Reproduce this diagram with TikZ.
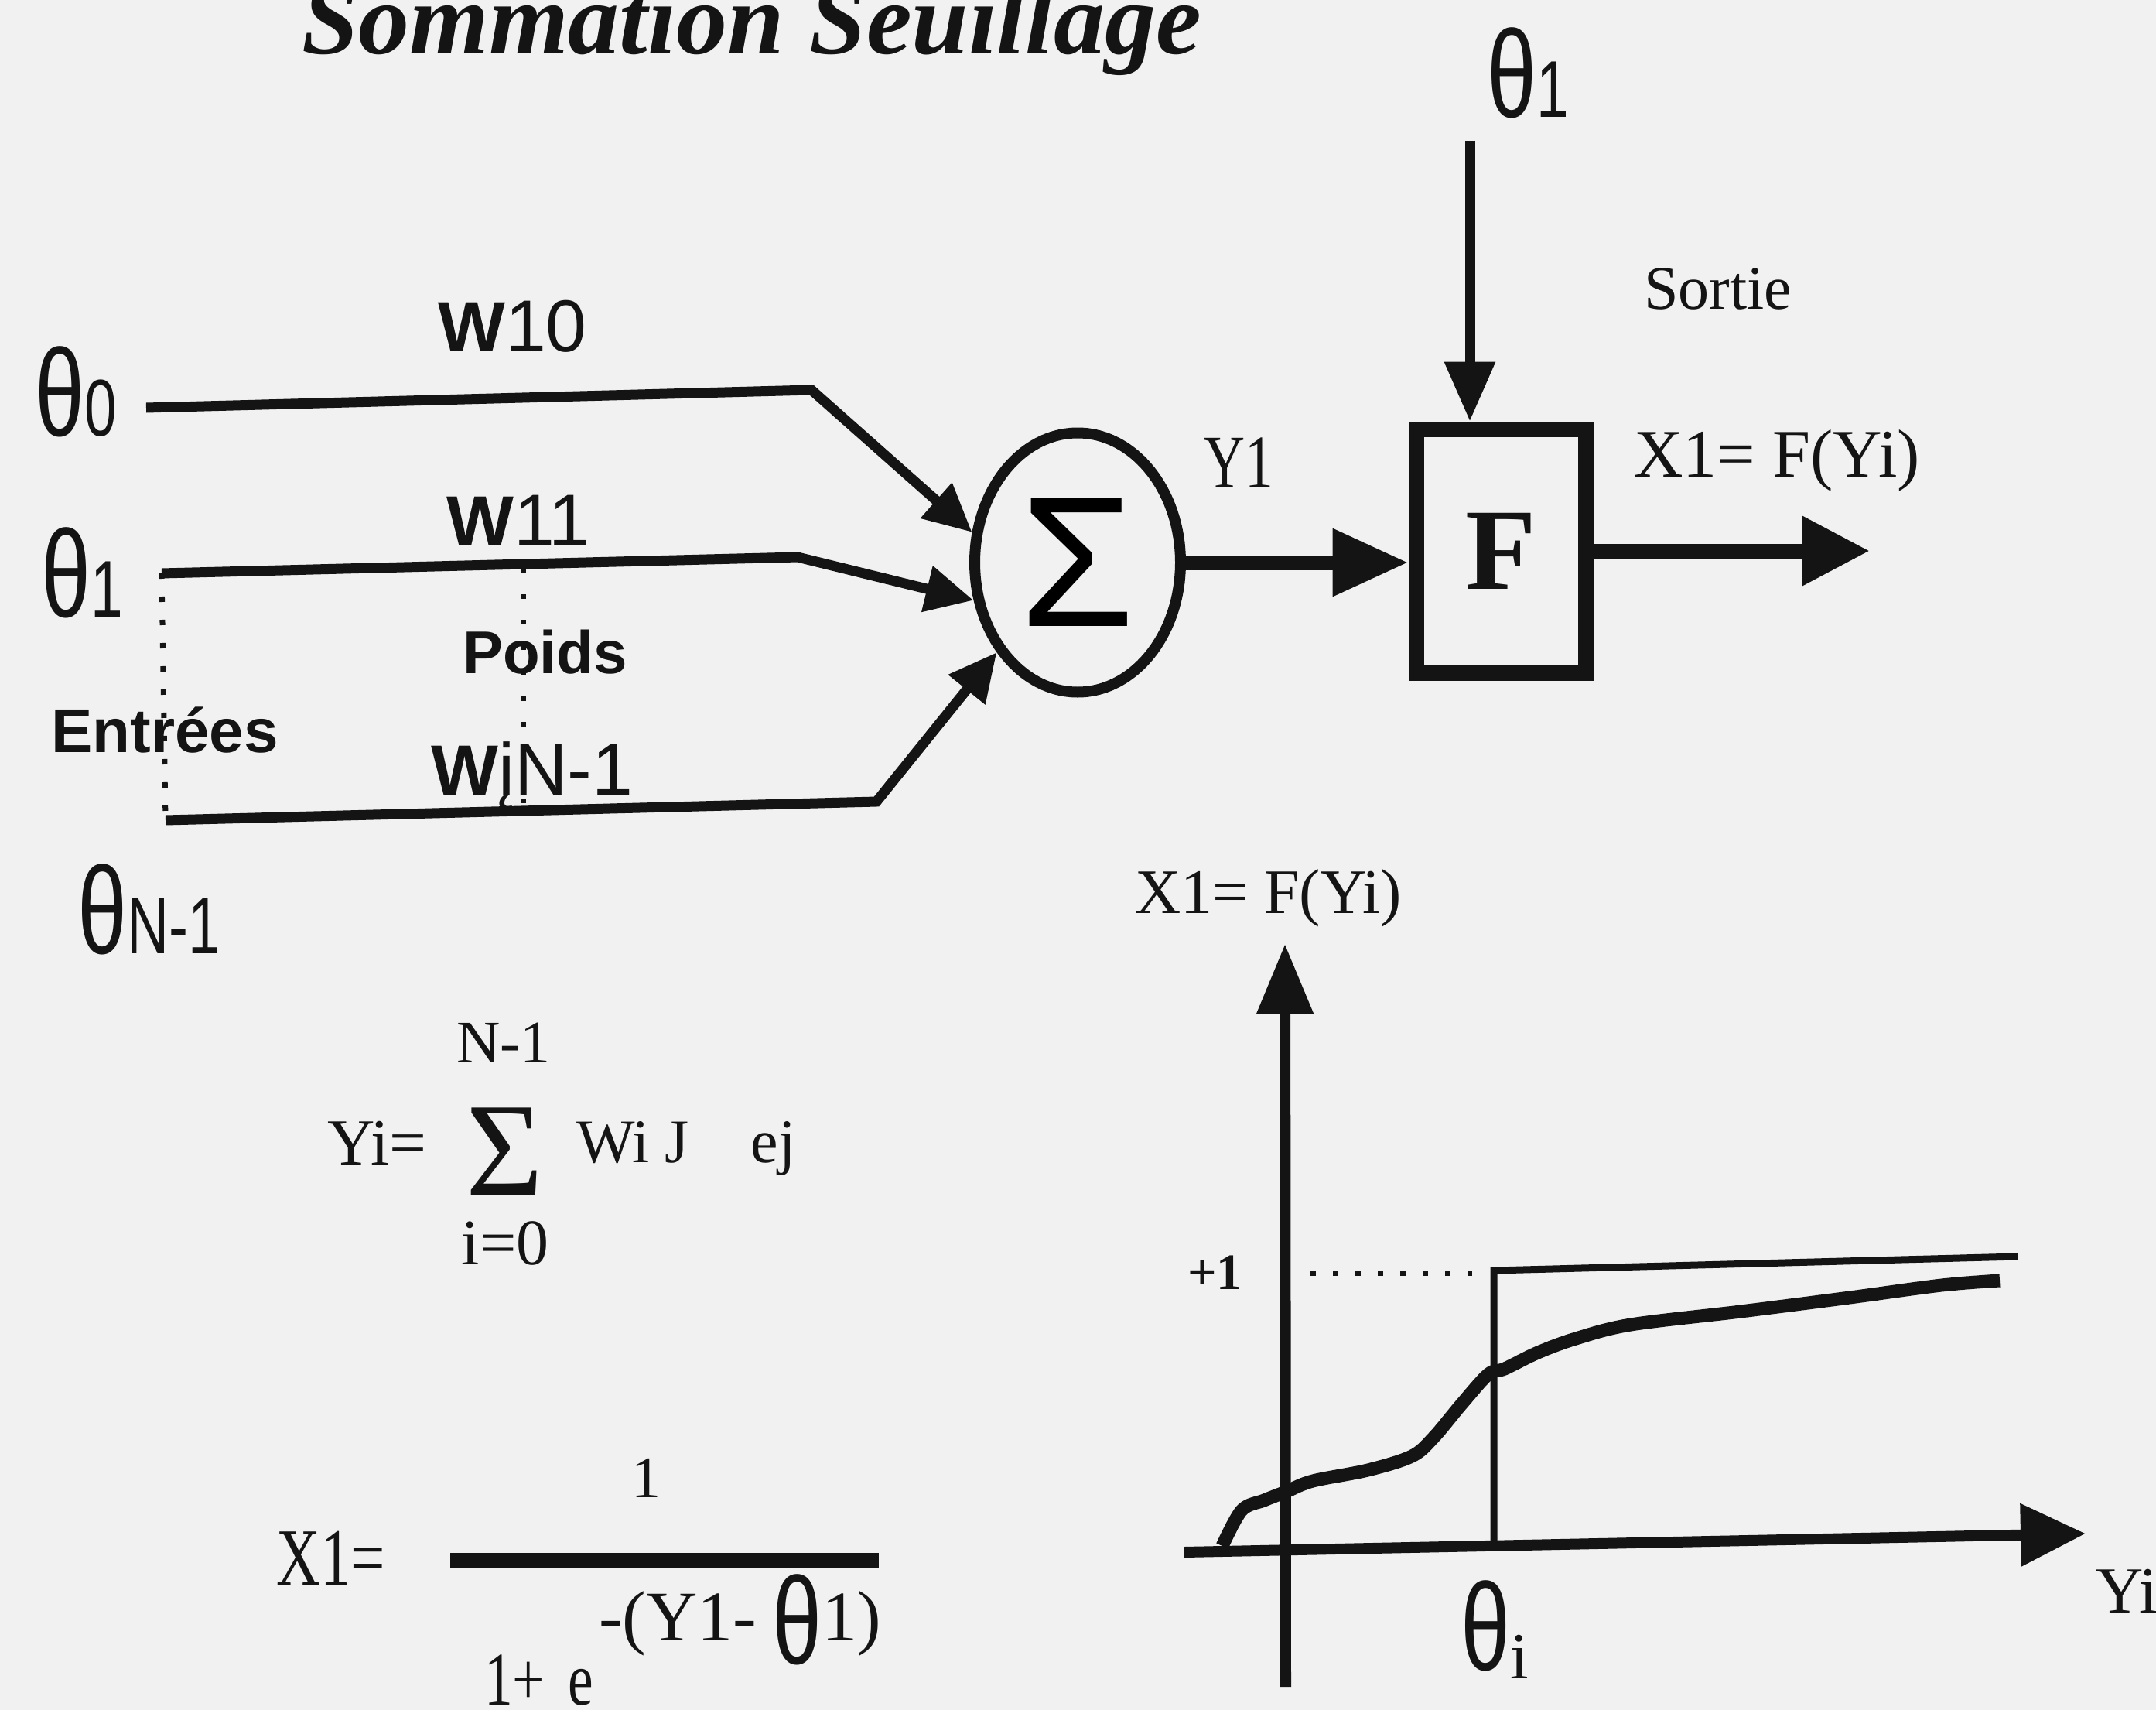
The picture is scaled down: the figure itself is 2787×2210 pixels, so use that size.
\documentclass[tikz,border=0pt]{standalone}
\usepackage{fontspec}
\setmainfont{Liberation Serif}
\setsansfont{Liberation Sans}
\newfontfamily\pixfont[FakeStretch=0.72]{Liberation Sans}
\newfontfamily\narrowfont[FakeStretch=0.75]{Liberation Serif}
\usetikzlibrary{arrows.meta,calc,positioning,shapes.geometric}
\definecolor{SeuilInk}{HTML}{141414}
\definecolor{SeuilPaper}{HTML}{F1F1F1}
\newcommand\thsub[1]{{\fontsize{104}{104}\selectfont#1}}
\newcommand\wsub[1]{{\mdseries\fontsize{95}{95}\selectfont#1}}
\tikzset{
  seuil text/.style={inner sep=0pt,text=SeuilInk,anchor=base west},
  theta lab/.style={seuil text,font=\pixfont\fontsize{160}{160}\selectfont},
  w lab/.style={seuil text,font=\sffamily\bfseries\fontsize{92}{92}\selectfont},
  seuil wire/.style={draw=SeuilInk,line width=13pt},
  seuil tip/.style={-{Triangle[length=62pt,width=58pt]}},
  seuil dots/.style={draw=SeuilInk,line width=7pt,dash pattern=on 7pt off 23pt}
}

\begin{document}
\begin{tikzpicture}[x=1pt,y=-1pt]

    \fill[SeuilPaper] (0,0) rectangle (2787,2210);
    \useasboundingbox (0,0) rectangle (2787,2210);

    \node[
      seuil text,
      font=\bfseries\itshape\fontsize{132}{132}\selectfont
    ]
      (title) at (390,70)
      {Sommation Seuillage};

    \node[theta lab] (th0) at (45,563) {θ\thsub{0}};
    \node[theta lab] (th1) at (53,797) {θ\thsub{1}};
    \node[theta lab] (thN) at (100,1232) {θ\thsub{N-1}};

    \node[w lab] (w10) at (566,454) {W\wsub{10}};
    \node[w lab] (w11) at (577,705) {W\wsub{11}};
    \node[w lab] (wN) at (557,1027) {W\wsub{įN-1}};

    \node[
      seuil text,
      font=\sffamily\bfseries\fontsize{78}{78}\selectfont
    ]
      (poids) at (598,870)
      {Poids};

    \node[
      seuil text,
      font=\sffamily\bfseries\fontsize{80}{80}\selectfont
    ]
      (entrees) at (66,972)
      {Entrées};

    \node[
      ellipse,
      draw=SeuilInk,
      line width=14pt,
      minimum width=266pt,
      minimum height=335pt,
      inner sep=0pt,
      font=\sffamily\fontsize{240}{240}\selectfont
    ]
      (sum) at (1393,727)
      {Σ};

    \coordinate (in0) at (189,527);
    \coordinate (bend0) at (1049,504);
    \coordinate (in1) at (209,741);
    \coordinate (bend1) at (1031,720);
    \coordinate (inN) at (214,1060);
    \coordinate (bendN) at (1133,1036);

    \foreach \k/\ang in {0/164,1/200,N/228.6}{
      \draw[seuil wire,seuil tip]
        (in\k) -- (bend\k) -- (sum.\ang);
    }

    \draw[seuil dots] (in1) -- (inN);
    \coordinate (pdtop) at (677,735);
    \coordinate (pdbot) at (677,1046);
    \draw[seuil dots,line width=6pt,dash pattern=on 6pt off 27pt] (pdtop) -- (pdbot);

    \node[
      draw=SeuilInk,
      line width=20pt,
      minimum width=219pt,
      minimum height=315pt,
      text=SeuilInk,
      font=\bfseries\fontsize{150}{150}\selectfont
    ]
      (fbox) at (1940,712)
      {F};

    \node[
      seuil text,
      font=\narrowfont\fontsize{98}{98}\selectfont
    ]
      (y1) at (1556,630)
      {Y1};

    \draw[seuil wire,line width=19pt,-{Triangle[length=98pt,width=83pt]}]
      (sum.east) -- (sum.east -| fbox.west);

    \node[theta lab] (thtop) at (1922,152) {θ\thsub{1}};
    \coordinate (topstart) at (1900,182);
    \draw[seuil wire,-{Triangle[length=77pt,width=63pt]}]
      (topstart) -- (topstart |- fbox.north);

    \node[
      seuil text,
      font=\fontsize{80}{80}\selectfont
    ]
      (sortie) at (2125,399)
      {Sortie};

    \node[
      seuil text,
      font=\fontsize{88}{88}\selectfont
    ]
      (xout) at (2112,616)
      {X1= F(Yi)};

    \coordinate (outtip) at (2417,712);
    \draw[seuil wire,line width=19pt,-{Triangle[length=88pt,width=86pt]}]
      (fbox.east) -- (outtip);

    \node[
      seuil text,
      anchor=base,
      font=\fontsize{78}{78}\selectfont
    ]
      (sumtop) at (651,1373)
      {N-1};

    \node[
      seuil text,
      anchor=base,
      font=\fontsize{172}{172}\selectfont
    ]
      (bigsum) at (653,1544)
      {Σ};

    \node[
      seuil text,
      anchor=base,
      font=\fontsize{84}{84}\selectfont
    ]
      (sumbot) at (653,1634)
      {i=0};

    \node[
      seuil text,
      font=\fontsize{85}{85}\selectfont
    ]
      (yieq) at (423,1505)
      {Yi=};

    \node[
      seuil text,
      font=\fontsize{80}{80}\selectfont
    ]
      (wiej) at (745,1502)
      {Wi J\quad ej};

    \node[
      seuil text,
      font=\narrowfont\fontsize{105}{105}\selectfont
    ]
      (x1eq) at (357,2048)
      {X1=};

    \coordinate (barl) at (582,2017);
    \coordinate (barr) at (1136,2017);
    \draw[draw=SeuilInk,line width=20pt] (barl) -- (barr);

    \node[
      seuil text,
      anchor=base,
      font=\fontsize{76}{76}\selectfont
    ]
      (num) at (835,1935)
      {1};

    \node[
      seuil text,
      font=\narrowfont\fontsize{98}{98}\selectfont
    ]
      (den) at (626,2203)
      {1+\hspace{30pt}e};

    \node[
      seuil text,
      font=\fontsize{92}{92}\selectfont
    ]
      (expo) at (774,2120)
      {-(Y1-\hspace{20pt}\raisebox{-30pt}{\pixfont\fontsize{160}{160}\selectfont θ}1)};

    \coordinate (xaxl) at (1531,2006);
    \coordinate (xaxr) at (2696,1982);
    \coordinate (yaxb) at (1662,2180);
    \coordinate (yaxt) at (1661,1220);

    \draw[seuil wire,line width=14pt,-{Triangle[length=84pt,width=78pt]}]
      (xaxl) -- (xaxr);
    \draw[seuil wire,line width=14pt,-{Triangle[length=90pt,width=70pt]}]
      (yaxb) -- (yaxt);

    \draw[seuil wire,line width=9pt]
      (1931,1998) -- (1931,1642) -- (2608,1624);

    \draw[seuil dots,line width=7pt,dash pattern=on 7pt off 22pt]
      (1694,1645) -- (1903,1645);

    \draw[seuil wire,line width=17pt,line join=round]
      plot[smooth,tension=0.55] coordinates {
        (1580,1998) (1605,1952) (1634,1939) (1662,1928) (1697,1914)
        (1768,1900) (1825,1882) (1853,1858) (1889,1815) (1924,1776)
        (1945,1769) (1988,1748) (2037,1730) (2108,1712) (2250,1695)
        (2391,1677) (2510,1661) (2585,1655)
      };

    \node[
      seuil text,
      font=\fontsize{82}{82}\selectfont
    ]
      (fylab) at (1467,1180)
      {X1= F(Yi)};

    \node[
      seuil text,
      font=\bfseries\fontsize{66}{66}\selectfont
    ]
      (plusone) at (1535,1666)
      {+1};

    \node[theta lab] (thi) at (1888,2158)
      {θ\raisebox{-11pt}{\rmfamily\fontsize{85}{85}\selectfont i}};

    \node[
      seuil text,
      font=\fontsize{85}{85}\selectfont
    ]
      (yilab) at (2709,2084)
      {Yi};

\end{tikzpicture}
\end{document}
